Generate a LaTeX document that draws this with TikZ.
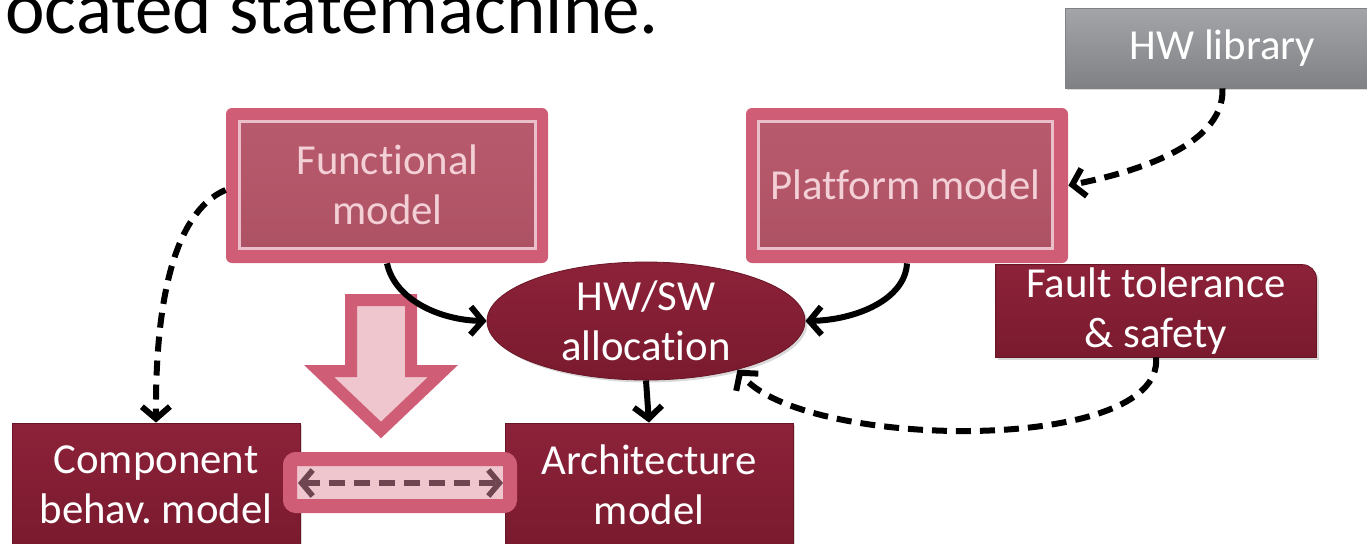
\documentclass[tikz,border=0pt]{standalone}
\usepackage{fontspec}
\setmainfont{Carlito}[Ligatures=NoCommon]
\usetikzlibrary{arrows.meta,shapes.geometric,shadows,backgrounds}
\definecolor{maroon}{HTML}{7A1A2E}
\definecolor{maroonL}{HTML}{8C2239}
\definecolor{maroonD}{HTML}{6A1526}
\definecolor{pinkF}{HTML}{CF5D76}
\definecolor{pinkIn}{HTML}{AD5264}
\definecolor{pinkInL}{HTML}{B85A6D}
\definecolor{pinkLine}{HTML}{EBBFCA}
\definecolor{pinkTxt}{HTML}{F3CFD6}
\definecolor{pinkLight}{HTML}{EFC6CE}
\definecolor{mauve}{HTML}{6E4550}
\definecolor{grayT}{HTML}{A3A5A8}
\definecolor{grayB}{HTML}{7F8184}
\begin{document}
\frenchspacing
\begin{tikzpicture}[x=0.5pt,y=-0.5pt,
  boxtext/.style={font=\fontsize{21.4}{25}\selectfont, align=center, inner sep=0pt},
  shadowed/.style={drop shadow={opacity=0.3, shadow xshift=1.2pt, shadow yshift=-1.2pt}},
  darkfill/.style={top color=maroonL, bottom color=maroon, draw=maroonD, line width=0.4pt},
  darkbox/.style={boxtext, rectangle, darkfill, text=white, shadowed},
  graybox/.style={boxtext, rectangle, top color=grayT, bottom color=grayB, draw=grayB, line width=0.4pt, text=white, shadowed},
  frame/.style={rectangle, rounded corners=3pt, fill=pinkF, inner sep=0pt},
  innerbox/.style={boxtext, rectangle, top color=pinkInL, bottom color=pinkIn, draw=pinkLine, line width=1.5pt, text=pinkTxt},
  conn/.style={line width=3pt, -{Straight Barb[length=6pt,width=14pt]}},
  dconn/.style={conn, dash pattern=on 7.5pt off 4.5pt},
]
\useasboundingbox (0,0) rectangle (1367,543);
\clip (0,0) rectangle (1367,543);

% title
\node[anchor=base west, inner sep=0pt, font=\fontsize{37.5}{42}\selectfont] (title) at (5,33) {ocated statemachine.};

% HW library
\node[graybox, minimum width=157.5pt, minimum height=40pt] (hwlib) at (1222.5,48) {HW library};

% Functional model
\node[frame, minimum width=161pt, minimum height=77.5pt] (funcF) at (387,185.5) {};
\node[innerbox, minimum width=148pt, minimum height=63.5pt] (func) at (387.5,185) {Functional\\model};

% Platform model
\node[frame, minimum width=161pt, minimum height=77.5pt] (platF) at (907,185.5) {};
\node[innerbox, minimum width=147pt, minimum height=63.5pt] (plat) at (905.5,185) {Platform model};

% allocation
\node[ellipse, boxtext, minimum width=159pt, minimum height=59pt, darkfill, text=white, shadowed] (alloc) at (646,321) {HW/SW\\allocation};

% fault tolerance (rounded top-right corner)
\node[boxtext, text=white, minimum width=160pt, minimum height=46pt] (fault) at (1156,311) {Fault tolerance\\\& safety};
\begin{scope}[on background layer]
\path[darkfill, shadowed] (fault.south west) -- (fault.north west)
  [rounded corners=7pt] -- (fault.north east) [rounded corners=0pt] -- (fault.south east) -- cycle;
\end{scope}

% bottom boxes
\node[darkbox, minimum width=144pt, minimum height=62pt] (comp) at (156,485) {Component\\behav. model};
\node[darkbox, minimum width=144pt, minimum height=62pt] (arch) at (649,485) {Architecture\\model};

% big down arrow
\draw[fill=pinkLight, draw=pinkF, line width=6pt, line join=miter]
  (351,300) -- (411,300) -- (411,371) -- (443,371) -- (381,430) -- (319,371) -- (351,371) -- cycle;

% small frame with double arrow
\node[rectangle, rounded corners=3pt, fill=pinkLight, draw=pinkF, line width=7pt, minimum width=110pt, minimum height=23.5pt] (link) at (400,482.5) {};
\coordinate (lA) at (298,483);
\coordinate (lB) at (503,483);
\draw[mauve, line width=2.8pt, dash pattern=on 8pt off 4.5pt,
  {Straight Barb[length=5.5pt,width=13pt]}-{Straight Barb[length=5.5pt,width=13pt]}] (lA) -- (lB);

% connectors
\draw[conn] (funcF.south) .. controls (395,300) and (440,320) .. (alloc.west);
\draw[conn] (platF.south) .. controls (905,300) and (855,320) .. (alloc.east);
\draw[conn] (alloc.south) -- (arch.north);
\draw[dconn] (funcF.west |- 0,190) .. controls (190,205) and (155,260) .. (comp.north);
\draw[dconn] (hwlib.south) .. controls (1225,150) and (1120,175) .. (platF.east);
\draw[dconn] (fault.south) .. controls (1165,455) and (800,450) .. (alloc.-28);
\end{tikzpicture}
\end{document}
